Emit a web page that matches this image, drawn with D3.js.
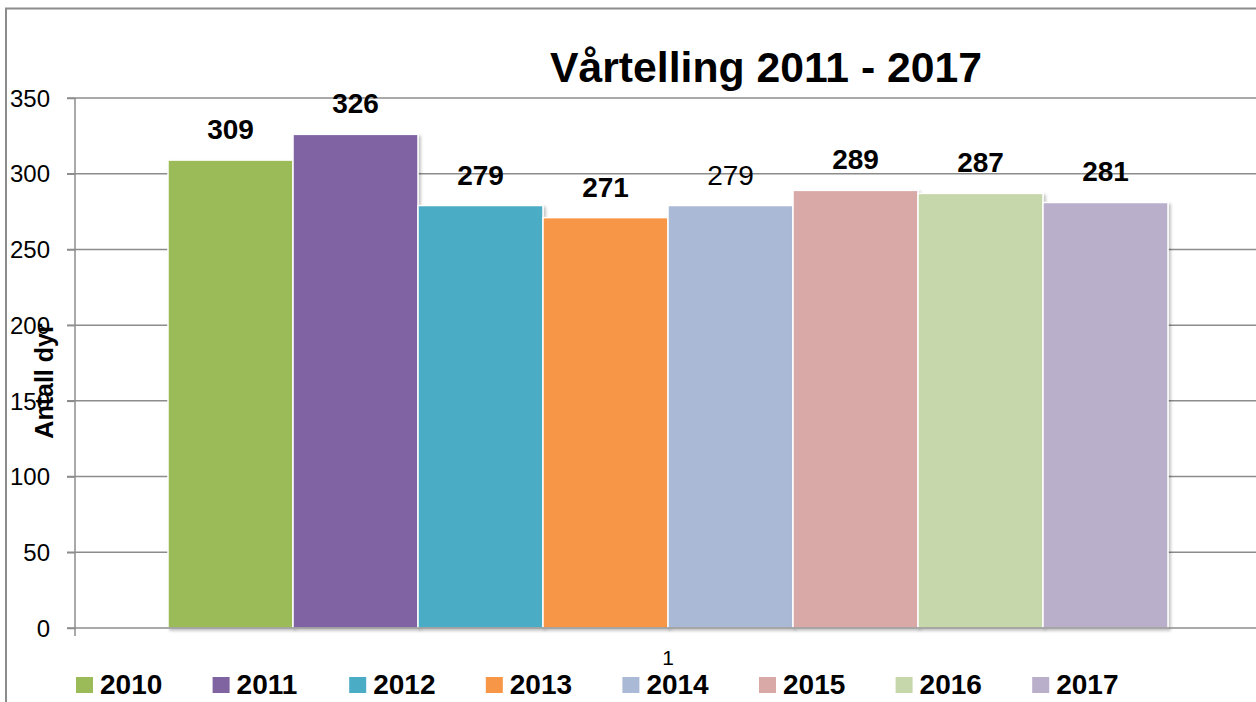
<!DOCTYPE html>
<html>
<head>
<meta charset="utf-8">
<script src="https://cdn.jsdelivr.net/npm/d3@7"></script>
<style>
  body { margin: 0; background: #fff; }
  svg { display: block; font-family: "Liberation Sans", Arial, sans-serif; }
</style>
</head>
<body>
<svg width="1256" height="702"></svg>
<script>
// data
var years = ["2010", "2011", "2012", "2013", "2014", "2015", "2016", "2017"];
var counts = [309, 326, 279, 271, 279, 289, 287, 281];
var colors = ["#9BBB59", "#8064A2", "#4BACC6", "#F79646", "#AAB9D6", "#D9A9A8", "#C6D7AB", "#B9AFCB"];
var yTicks = [0, 50, 100, 150, 200, 250, 300, 350];
var groups = ["1"];

var svg = d3.select("svg");

// outer frame (top + left)
svg.append("path")
  .attr("d", "M6,702 V8.5 H1256")
  .attr("fill", "none").attr("stroke", "#8c8c8c").attr("stroke-width", 2);

var y = d3.scaleLinear().domain([0, 350]).range([628, 98]);
var x0 = d3.scaleBand().domain(groups).range([75, 1261]).paddingOuter(0.093);
var x1 = d3.scaleBand().domain(years).range([0, x0.bandwidth()]);

// shadow for bars
var defs = svg.append("defs");
var f = defs.append("filter").attr("id", "sh").attr("x", "-5%").attr("y", "-5%").attr("width", "115%").attr("height", "115%");
f.append("feDropShadow").attr("dx", 2).attr("dy", 2).attr("stdDeviation", 1.5).attr("flood-color", "#000").attr("flood-opacity", 0.25);

// gridlines
svg.append("g").selectAll("line").data(yTicks.slice(1)).join("line")
  .attr("x1", 67).attr("x2", 1256)
  .attr("y1", function(d){return y(d);}).attr("y2", function(d){return y(d);})
  .attr("stroke", "#8c8c8c").attr("stroke-width", 1.5);

// y axis
var yAxis = svg.append("g").attr("transform", "translate(75,0)")
  .call(d3.axisLeft(y).tickValues(yTicks).tickSize(8).tickPadding(17));
yAxis.select(".domain").remove();
yAxis.selectAll(".tick line").attr("stroke", "#8c8c8c").attr("stroke-width", 1.5);
yAxis.selectAll(".tick text").attr("font-size", 24).attr("fill", "#000").attr("dy", "0.34em");
svg.append("line").attr("x1", 75).attr("x2", 75).attr("y1", 98).attr("y2", 636)
  .attr("stroke", "#8c8c8c").attr("stroke-width", 1.5);

// bars
var g = svg.append("g").attr("transform", "translate(" + x0("1") + ",0)");
var data = years.map(function(yr, i){ return {year: yr, v: counts[i], c: colors[i], i: i}; });
g.selectAll("rect").data(data).join("rect")
  .attr("x", function(d){return x1(d.year);})
  .attr("y", function(d){return y(d.v);})
  .attr("width", x1.bandwidth())
  .attr("height", function(d){return y(0) - y(d.v);})
  .attr("fill", function(d){return d.c;})
  .attr("stroke", "#fff").attr("stroke-width", 1.5)
  .attr("filter", "url(#sh)");

// zero line
svg.append("line").attr("x1", 67).attr("x2", 1256).attr("y1", y(0)).attr("y2", y(0))
  .attr("stroke", "#8c8c8c").attr("stroke-width", 1.5);

// value labels
g.selectAll("text.val").data(data).join("text")
  .attr("class", "val")
  .attr("x", function(d){return x1(d.year) + x1.bandwidth() / 2;})
  .attr("y", function(d){return y(d.v) - 21;})
  .attr("text-anchor", "middle")
  .attr("font-size", 28)
  .attr("font-weight", function(d){return d.year === "2014" ? "normal" : "bold";})
  .text(function(d){return d.v;});

// title
svg.append("text").attr("x", 766).attr("y", 82).attr("text-anchor", "middle")
  .attr("font-size", 42).attr("font-weight", "bold")
  .attr("textLength", 432).attr("lengthAdjust", "spacingAndGlyphs")
  .text("Vårtelling 2011 - 2017");

// y title
svg.append("text").attr("transform", "translate(53,381) rotate(-90)")
  .attr("text-anchor", "middle").attr("font-size", 25).attr("font-weight", "bold")
  .text("Antall dyr");

// category label
svg.append("text").attr("x", x0("1") + x0.bandwidth() / 2).attr("y", 665)
  .attr("text-anchor", "middle").attr("font-size", 21).text("1");

// legend
var leg = svg.append("g").selectAll("g").data(data).join("g")
  .attr("transform", function(d){return "translate(" + (76 + d.i * 136.6) + ",677)";});
leg.append("rect").attr("width", 17).attr("height", 16).attr("fill", function(d){return d.c;});
leg.append("text").attr("x", 24).attr("y", 17).attr("font-size", 28).attr("font-weight", "bold")
  .text(function(d){return d.year;});
</script>
</body>
</html>
